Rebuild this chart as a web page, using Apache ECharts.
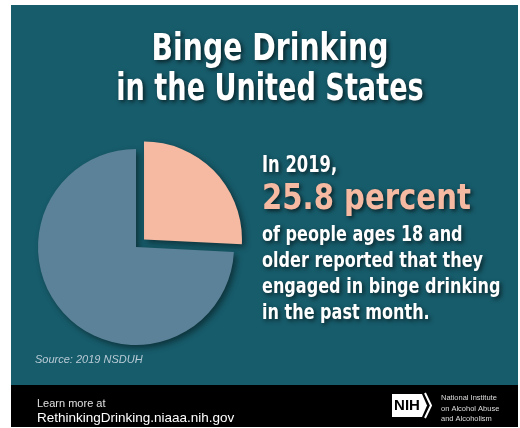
<!DOCTYPE html>
<html>
<head>
<meta charset="utf-8">
<script src="https://cdn.jsdelivr.net/npm/echarts@6/dist/echarts.min.js"></script>
<style>
html,body{margin:0;padding:0;background:#fff;}
#chart{width:520px;height:428px;}
</style>
</head>
<body>
<div id="chart"></div>
<script>
const categories = ['Binge drinking', 'No binge drinking'];
const values = [25.8, 74.2];
const titleLines = ['Binge Drinking', 'in the United States'];
const leadText = 'In 2019,';
const highlightText = '25.8 percent';
const bodyLines = ['of people ages 18 and', 'older reported that they', 'engaged in binge drinking', 'in the past month.'];
const sourceText = 'Source: 2019 NSDUH';
const footerLines = ['Learn more at', 'RethinkingDrinking.niaaa.nih.gov'];
const nihLines = ['National Institute', 'on Alcohol Abuse', 'and Alcoholism'];

const TEAL = '#175c6b';
const PINK = '#f6b9a1';
const BLUE = '#5b8298';
const COND = "'DejaVu Sans Condensed','DejaVu Sans',sans-serif";
const shadowText = {textShadowColor: 'rgba(0,0,0,0.65)', textShadowBlur: 4, textShadowOffsetX: 2, textShadowOffsetY: 2};

const chart = echarts.init(document.getElementById('chart'), null, {renderer: 'canvas'});

const graphics = [
  {type: 'rect', z: -10, shape: {x: 11, y: 5, width: 507, height: 380}, style: {fill: TEAL}, silent: true},
  {type: 'rect', z: -10, shape: {x: 11, y: 385, width: 507, height: 42}, style: {fill: '#000'}, silent: true}
];
const titleScale = [0.85, 0.815];
titleLines.forEach((t, i) => {
  graphics.push({type: 'text', x: 270, y: 50 + i * 40, scaleX: titleScale[i], style: Object.assign({
    text: t, fill: '#fff', font: "bold 37px " + COND, align: 'center', verticalAlign: 'middle'}, shadowText)});
});
graphics.push({type: 'text', x: 262, y: 166, scaleX: 0.79, style: Object.assign({
  text: leadText, fill: '#fff', font: "bold 23px " + COND, align: 'left', verticalAlign: 'middle'}, shadowText)});
graphics.push({type: 'text', x: 262, y: 200, scaleX: 0.9, style: Object.assign({
  text: highlightText, fill: PINK, font: "bold 36px " + COND, align: 'left', verticalAlign: 'middle'}, shadowText)});
bodyLines.forEach((t, i) => {
  graphics.push({type: 'text', x: 262, y: 236 + i * 26, scaleX: 0.85, style: Object.assign({
    text: t, fill: '#fff', font: "bold 21px " + COND, align: 'left', verticalAlign: 'middle'}, shadowText)});
});
graphics.push({type: 'text', x: 35, y: 360, style: {
  text: sourceText, fill: '#b9cbd6', font: "italic 11px 'Liberation Sans',sans-serif", align: 'left', verticalAlign: 'middle'}});
graphics.push({type: 'text', x: 37, y: 404, style: {
  text: footerLines[0], fill: '#e0e0e0', font: "11px 'Liberation Sans',sans-serif", align: 'left', verticalAlign: 'middle'}});
graphics.push({type: 'text', x: 37, y: 418, style: {
  text: footerLines[1], fill: '#fff', font: "13.5px 'Liberation Sans',sans-serif", align: 'left', verticalAlign: 'middle'}});
// NIH logo
graphics.push({type: 'polygon', shape: {points: [[392, 394], [422, 394], [427, 405.5], [422, 417], [392, 417]]}, style: {fill: '#fff'}});
graphics.push({type: 'polyline', shape: {points: [[425, 393], [431, 405.5], [425, 418]]}, style: {stroke: '#fff', lineWidth: 2, fill: null}});
graphics.push({type: 'text', x: 407, y: 406, style: {
  text: 'NIH', fill: '#000', font: "bold 15px 'Liberation Sans',sans-serif", align: 'center', verticalAlign: 'middle'}});
nihLines.forEach((t, i) => {
  graphics.push({type: 'text', x: 441, y: 398 + i * 10.5, style: {
    text: t, fill: '#ddd', font: "7.5px 'Liberation Sans',sans-serif", align: 'left', verticalAlign: 'middle'}});
});

chart.setOption({
  animation: false,
  backgroundColor: '#fff',
  graphic: graphics,
  series: [{
    type: 'pie',
    center: [136, 247],
    radius: 98,
    startAngle: 90,
    clockwise: true,
    selectedMode: 'single',
    selectedOffset: 11,
    label: {show: false},
    labelLine: {show: false},
    emphasis: {disabled: true},
    itemStyle: {shadowBlur: 6, shadowOffsetX: 3, shadowOffsetY: 3, shadowColor: 'rgba(0,0,0,0.45)'},
    data: categories.map((c, i) => ({
      name: c, value: values[i], selected: i === 0,
      itemStyle: {color: i === 0 ? PINK : BLUE}
    }))
  }]
});
</script>
</body>
</html>
